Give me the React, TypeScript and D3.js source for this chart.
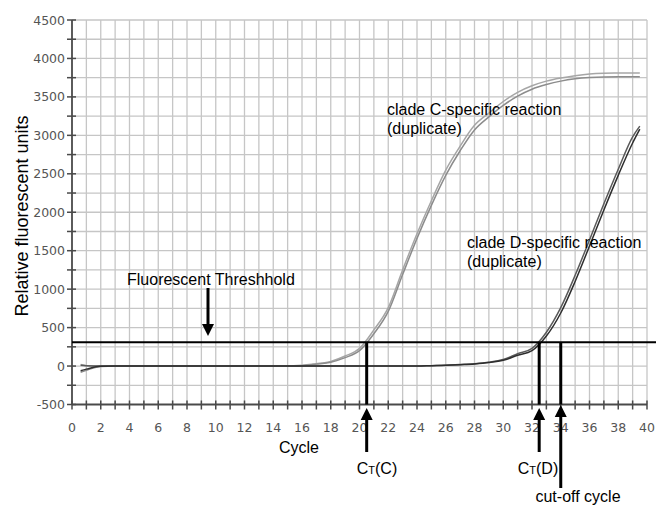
import React from "react";
import * as d3 from "d3";

const cycles = [0.6, 1, 2, 3, 4, 5, 6, 7, 8, 9, 10, 11, 12, 13, 14, 15, 16, 17, 18, 19, 20, 21, 22, 23, 24, 25, 26, 27, 28, 29, 30, 31, 32, 33, 34, 35, 36, 37, 38, 39, 39.5];

const cladeC1 = [20, 5, 0, 0, 0, 0, 0, 0, 0, 0, 0, 0, 0, 0, 0, 0, 10, 30, 60, 130, 230, 470, 760, 1250, 1720, 2150, 2549, 2860, 3130, 3290, 3440, 3560, 3645, 3705, 3745, 3775, 3797, 3807, 3810, 3812, 3812];
const cladeC2 = [-80, -55, -5, 0, 0, 0, 0, 0, 0, 0, 0, 0, 0, 0, 0, 0, 5, 25, 50, 110, 200, 420, 710, 1190, 1660, 2090, 2480, 2800, 3070, 3240, 3390, 3510, 3600, 3660, 3705, 3735, 3752, 3760, 3762, 3762, 3762];
const cladeD1 = [10, 3, 0, 0, 0, 0, 0, 0, 0, 0, 0, 0, 0, 0, 0, 0, 0, 0, 0, 0, 0, 0, 0, 0, 0, 5, 10, 20, 30, 50, 85, 160, 230, 440, 760, 1180, 1640, 2110, 2560, 2980, 3120];
const cladeD2 = [-60, -40, -3, 0, 0, 0, 0, 0, 0, 0, 0, 0, 0, 0, 0, 0, 0, 0, 0, 0, 0, 0, 0, 0, 0, 5, 10, 18, 28, 45, 75, 140, 200, 390, 690, 1100, 1560, 2030, 2480, 2900, 3080];

const xTicks = [0, 2, 4, 6, 8, 10, 12, 14, 16, 18, 20, 22, 24, 26, 28, 30, 32, 34, 36, 38, 40];
const yTicks = [-500, 0, 500, 1000, 1500, 2000, 2500, 3000, 3500, 4000, 4500];
const threshold = 310;
const ctC = 20.5;
const ctD = 32.5;
const cutoff = 34;

const series = [
  { name: "C1", values: cladeC1, color: "#a6a6a6" },
  { name: "C2", values: cladeC2, color: "#8c8c8c" },
  { name: "D1", values: cladeD1, color: "#5a5a5a" },
  { name: "D2", values: cladeD2, color: "#2e2e2e" },
];

export default function App() {
  const W = 656, H = 505;
  const x = d3.scaleLinear().domain([0, 40]).range([72, 647]);
  const y = d3.scaleLinear().domain([-500, 4500]).range([404.5, 20]);
  const line = d3
    .line<number>()
    .x((_, i) => x(cycles[i]))
    .y((d) => y(d))
    .curve(d3.curveMonotoneX);

  const vGrid = d3.range(1, 41);
  const hGrid = d3.range(-250, 4501, 250);
  const hTicks = d3.range(-500, 4501, 250);
  const xMinor = d3.range(0, 41, 1);
  const font = "Liberation Sans, Arial, sans-serif";
  const tickFont = "DejaVu Sans, Verdana, sans-serif";

  const upArrow = (cx: number, tip: number, base: number, end: number) => (
    <g>
      <line x1={cx} x2={cx} y1={base - 1} y2={end} stroke="#000" strokeWidth={3} />
      <path d={`M${cx},${tip} L${cx - 6},${base} L${cx + 6},${base} Z`} fill="#000" />
    </g>
  );

  return (
    <svg width={W} height={H} style={{ position: "absolute", left: 0, top: 0, background: "#fff" }}>
      {/* grid */}
      <g stroke="#c6c6c6" strokeWidth={1.3}>
        {vGrid.map((c) => (
          <line key={"v" + c} x1={x(c)} x2={x(c)} y1={y(4500)} y2={y(-500)} />
        ))}
        {hGrid.map((v) => (
          <line key={"h" + v} x1={x(0)} x2={x(40)} y1={y(v)} y2={y(v)} />
        ))}
      </g>
      {/* axes */}
      <g stroke="#4a4a4a" strokeWidth={1.8}>
        <line x1={x(0)} x2={x(0)} y1={y(4500)} y2={y(-500)} />
        <line x1={x(0)} x2={x(40)} y1={y(-500)} y2={y(-500)} />
        {hTicks.map((v) => (
          <line key={"yt" + v} x1={x(0) - 5} x2={x(0) + 4} y1={y(v)} y2={y(v)} strokeWidth={1.5} />
        ))}
        {xMinor.map((c) => (
          <line key={"xt" + c} x1={x(c)} x2={x(c)} y1={y(-500) - 4} y2={y(-500) + 5} strokeWidth={1.5} />
        ))}
      </g>
      <g fill="#555" fontFamily={tickFont} fontSize={12.5}>
        {yTicks.map((v) => (
          <text key={"yl" + v} x={65} y={y(v) + 4.5} textAnchor="end">{v}</text>
        ))}
        {xTicks.map((c) => (
          <text key={"xl" + c} x={x(c)} y={432} textAnchor="middle">{c}</text>
        ))}
      </g>
      {/* curves */}
      <g fill="none" strokeWidth={1.5}>
        {series.map((s) => (
          <path key={s.name} d={line(s.values) || ""} stroke={s.color} />
        ))}
      </g>
      {/* threshold */}
      <line x1={x(0)} x2={656} y1={y(threshold)} y2={y(threshold)} stroke="#000" strokeWidth={2} />
      {/* Ct vertical lines */}
      {[ctC, ctD, cutoff].map((c) => (
        <line key={"ct" + c} x1={x(c)} x2={x(c)} y1={y(threshold)} y2={y(-500)} stroke="#000" strokeWidth={3} />
      ))}
      {/* arrows */}
      {upArrow(x(ctC), 408, 420, 452)}
      {upArrow(x(ctD), 408, 420, 452)}
      {upArrow(x(cutoff), 405, 417, 488)}
      <g>
        <line x1={208} x2={208} y1={288} y2={326} stroke="#000" strokeWidth={3} />
        <path d={`M208,336 L202,324 L214,324 Z`} fill="#000" />
      </g>
      {/* labels */}
      <g fontFamily={font} fontSize={16} fill="#000">
        <text x={127} y={285}>Fluorescent Threshhold</text>
        <text x={387} y={115}>clade C-specific reaction</text>
        <text x={387} y={134}>(duplicate)</text>
        <text x={467} y={248}>clade D-specific reaction</text>
        <text x={467} y={267}>(duplicate)</text>
        <text x={299} y={453} textAnchor="middle">Cycle</text>
        <text x={377} y={474} textAnchor="middle">C<tspan fontSize={11}>T</tspan>(C)</text>
        <text x={538} y={474} textAnchor="middle">C<tspan fontSize={11}>T</tspan>(D)</text>
        <text x={578} y={502} textAnchor="middle">cut-off cycle</text>
        <text transform="translate(28,216) rotate(-90)" textAnchor="middle" fontSize={18}>Relative fluorescent units</text>
      </g>
    </svg>
  );
}
